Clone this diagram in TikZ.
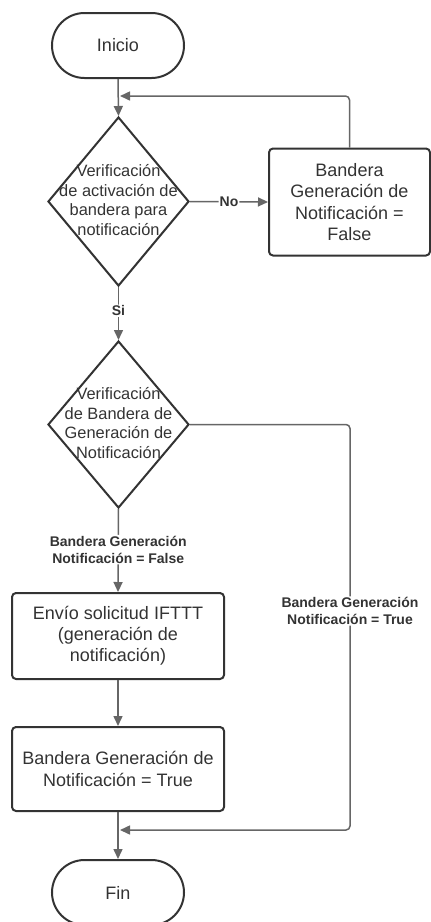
\documentclass[tikz,border=0pt]{standalone}
\usepackage{fontspec}
\setmainfont{Liberation Sans}
\usetikzlibrary{arrows.meta,shapes.geometric}
\definecolor{ink}{HTML}{333333}
\definecolor{wire}{HTML}{666666}
\begin{document}
\begin{tikzpicture}[x=1pt,y=-1pt,
  shapeline/.style={draw=ink, line width=2pt, text=ink},
  terminal/.style={shapeline, rectangle, rounded corners=32.5pt,
    minimum width=132pt, minimum height=65pt, font=\fontsize{18}{21.2}\selectfont},
  procbox/.style={shapeline, rectangle, rounded corners=4pt, align=center,
    inner sep=0pt, font=\fontsize{18}{21.2}\selectfont},
  decision/.style={shapeline, diamond, minimum width=141pt, inner sep=0pt},
  dtext/.style={text=ink, align=center, inner sep=0pt,
    font=\fontsize{16.4}{19.5}\selectfont},
  conn/.style={draw=wire, line width=1.5pt, rounded corners=4pt,
    -{Triangle[width=9pt,length=10pt]}},
  flowlabel/.style={fill=white, text=ink, align=center, inner sep=1pt,
    font=\bfseries\fontsize{14}{17}\selectfont},
]
\useasboundingbox (0,0) rectangle (431,922);
\clip (0,0) rectangle (431,922);

% shapes
\node[terminal] (inicio) at (118,45.5) {Inicio};
\node[decision, minimum height=169pt] (d1) at (118.5,201.5) {};
\node[dtext] (d1t) at (118.5,200) {Verificación\\de activación de\\bandera para\\notificación};
\node[procbox, minimum width=161pt, minimum height=107pt] (falsebox) at (349.5,202)
  {Bandera\\Generación de\\Notificación =\\False};
\node[decision, minimum height=167pt] (d2) at (118.5,424.5) {};
\node[dtext] (d2t) at (118.5,423) {Verificación\\de Bandera de\\Generación de\\Notificación};
\node[procbox, minimum width=212pt, minimum height=86pt] (ifttt) at (118,636)
  {Envío solicitud IFTTT\\(generación de\\notificación)};
\node[procbox, minimum width=212pt, minimum height=84pt] (truebox) at (118,769)
  {Bandera Generación de\\Notificación = True};
\node[terminal] (fin) at (118,892.5) {Fin};

% junction points on the main vertical line
\coordinate (j1) at (120,96);
\coordinate (j2) at (120,830);
\coordinate (c2) at (350,830);

% connectors
\draw[conn] (inicio.south) -- (d1.north);
\draw[conn] (d1.east) -- node[flowlabel] (no) {No} (falsebox.west);
\draw[conn] (falsebox.north) |- (j1);
\draw[conn] (d1.south) -- node[flowlabel, pos=0.45] (si) {Si} (d2.north);
\draw[conn] (d2.south) -- node[flowlabel, pos=0.49] (lfalse)
  {Bandera Generación\\Notificación = False} (ifttt.north);
\draw[conn] (d2.east) -| node[flowlabel, pos=0.73] (ltrue)
  {Bandera Generación\\Notificación = True} (c2) -- (j2);
\draw[conn] (ifttt.south) -- (truebox.north);
\draw[conn] (truebox.south) -- (fin.north);
\end{tikzpicture}
\end{document}
